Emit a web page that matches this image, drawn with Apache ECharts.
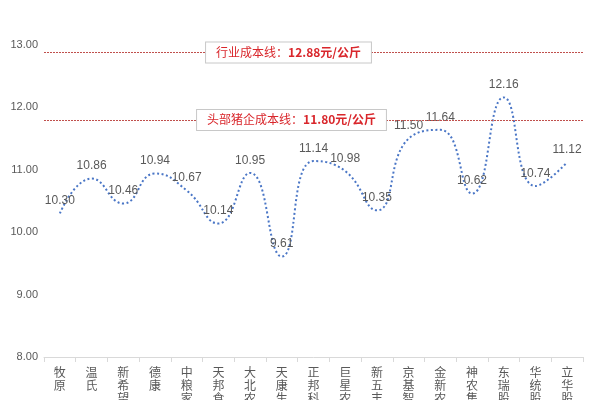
<!DOCTYPE html>
<html>
<head>
<meta charset="utf-8">
<script src="https://cdn.jsdelivr.net/npm/echarts@6/dist/echarts.min.js"></script>
<style>
  html, body { margin: 0; padding: 0; background: #fff; }
  #main { width: 600px; height: 400px; }
</style>
</head>
<body>
<div id="main"></div>
<script>
// 企业名称
var companies = ['牧原', '温氏', '新希望', '德康', '中粮家佳康', '天邦食品', '大北农', '天康生物', '正邦科技',
    '巨星农牧', '新五丰', '京基智农', '金新农', '神农集团', '东瑞股份', '华统股份', '立华股份'];
// 完全成本（元/公斤）
var costs = [10.30, 10.86, 10.46, 10.94, 10.67, 10.14, 10.95, 9.61, 11.14,
    10.98, 10.35, 11.50, 11.64, 10.62, 12.16, 10.74, 11.12];
// 成本参考线
var industryCost = 12.88;
var headCost = 11.80;

var myChart = echarts.init(document.getElementById('main'));

function lineLabel(name, v, dx) {
    return {
        show: true,
        position: 'middle',
        distance: 0,
        verticalAlign: 'middle',
        offset: [dx, 0],
        formatter: '{a|' + name + '：}{b|' + v.toFixed(2) + '元/公斤}',
        backgroundColor: '#fff',
        borderColor: '#c8c8c8',
        borderWidth: 1,
        padding: [4, 10],
        rich: {
            a: { color: '#d9262b', fontSize: 12, fontFamily: 'Noto Sans CJK SC' },
            b: { color: '#d9262b', fontSize: 12, fontWeight: 'bold', fontFamily: 'Noto Sans CJK SC' }
        }
    };
}

myChart.setOption({
    animation: false,
    grid: { left: 44, right: 17, top: 45, bottom: 43, containLabel: false, outerBoundsMode: 'none' },
    xAxis: {
        type: 'category',
        data: companies,
        axisLine: { lineStyle: { color: '#d9d9d9' } },
        axisTick: { show: true, lineStyle: { color: '#d9d9d9' } },
        axisLabel: {
            interval: 0,
            color: '#595959',
            fontSize: 12,
            lineHeight: 13,
            margin: 9,
            fontFamily: 'Noto Sans CJK SC',
            formatter: function (v) { return v.split('').join('\n'); }
        }
    },
    yAxis: {
        type: 'value',
        min: 8,
        max: 13,
        interval: 1,
        splitLine: { show: false },
        axisLine: { show: false },
        axisLabel: {
            color: '#595959',
            fontSize: 11,
            margin: 6,
            formatter: function (v) { return v.toFixed(2); }
        }
    },
    series: [{
        type: 'line',
        data: costs,
        smooth: 0.5,
        showSymbol: true,
        symbol: 'circle',
        symbolSize: 1,
        itemStyle: { color: 'rgba(0,0,0,0)' },
        lineStyle: { color: '#4a76c6', width: 2, type: [2, 2.5] },
        label: {
            show: true,
            position: 'top',
            distance: 6,
            color: '#595959',
            fontSize: 12,
            formatter: function (p) { return p.value.toFixed(2); }
        },
        markLine: {
            silent: true,
            symbol: 'none',
            lineStyle: { color: '#c0504d', type: [2, 1], width: 1 },
            data: [
                { yAxis: industryCost, label: lineLabel('行业成本线', industryCost, -25) },
                { yAxis: headCost, label: lineLabel('头部猪企成本线', headCost, -22) }
            ]
        }
    }]
});
</script>
</body>
</html>
